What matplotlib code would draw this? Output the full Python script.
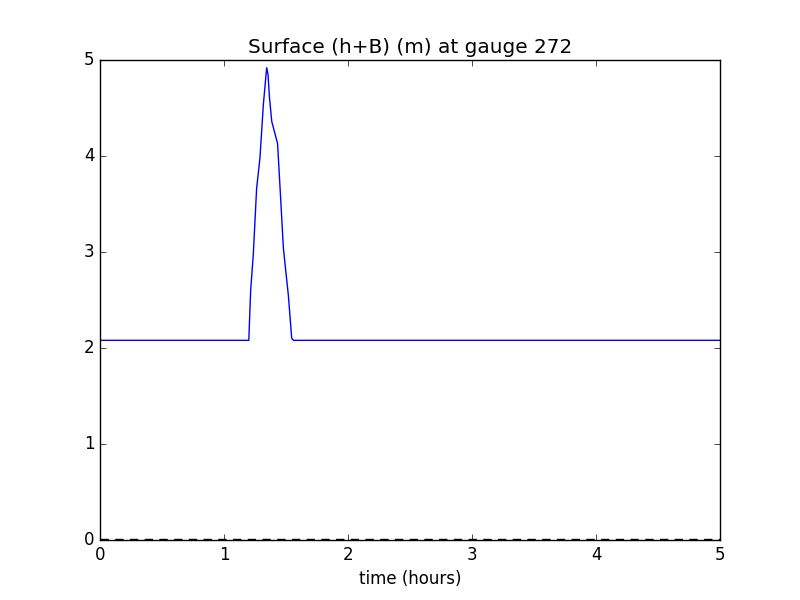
import numpy as np
import matplotlib
matplotlib.use('Agg')
import matplotlib.pyplot as plt

# gauge 272 surface trace
t_hours = [0.0, 1.20, 1.215, 1.236, 1.263, 1.29, 1.317, 1.344, 1.355, 1.366, 1.385, 1.432,
           1.452, 1.479, 1.50, 1.519, 1.546, 1.56, 2.0, 3.0, 4.0, 5.0]
surface = [2.08, 2.08, 2.60, 2.97, 3.66, 3.98, 4.53, 4.92, 4.85, 4.62, 4.36, 4.13,
           3.67, 3.04, 2.78, 2.55, 2.10, 2.08, 2.08, 2.08, 2.08, 2.08]
# dashed reference level, sits just above the bottom spine
topo_t = [0.0, 5.0]
topo = [0.012, 0.012]

plt.style.use('classic')
fig = plt.figure(figsize=(8, 6), dpi=100)
ax = fig.add_subplot(111)
ax.plot(t_hours, surface, 'b-')
ax.plot(topo_t, topo, 'k--', dashes=(6, 4.6), clip_on=False, zorder=5)
ax.set_xlim(0, 5)
ax.set_ylim(0, 5)
ax.set_xlabel('time (hours)')
ax.set_title('Surface (h+B) (m) at gauge 272')
fig.savefig('out.png', dpi=100, facecolor='white')
